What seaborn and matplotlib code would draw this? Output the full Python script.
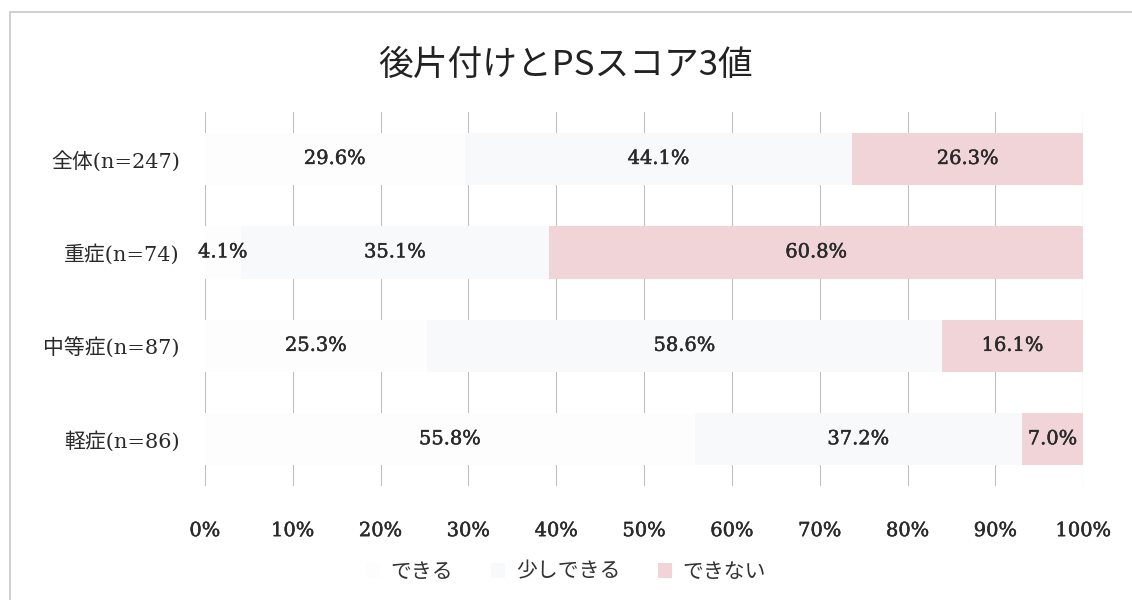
import matplotlib.pyplot as plt
import matplotlib.patheffects as pe
import pandas as pd
import seaborn as sns

categories = ["全体(n=247)", "重症(n=74)", "中等症(n=87)", "軽症(n=86)"]
series_names = ["できる", "少しできる", "できない"]
dekiru = [29.6, 4.1, 25.3, 55.8]
sukoshi = [44.1, 35.1, 58.6, 37.2]
dekinai = [26.3, 60.8, 16.1, 7.0]
x_ticks = [0, 10, 20, 30, 40, 50, 60, 70, 80, 90, 100]

colors = ["#fdfdfd", "#f8f9fa", "#f4d0d3"]
fonts = ["DejaVu Serif", "Noto Sans CJK JP"]
jp_fonts = ["Noto Sans CJK JP", "DejaVu Sans"]
ink = "#2a2a2a"
thicken = [pe.withStroke(linewidth=0.35, foreground=ink)]

df = pd.DataFrame({"cat": categories, series_names[0]: dekiru,
                   series_names[1]: sukoshi, series_names[2]: dekinai})
values = df[series_names]
cum = values.cumsum(axis=1)
starts = cum - values

sns.set_theme(style="white")
plt.rcParams["font.family"] = fonts

fig = plt.figure(figsize=(11.32, 6), dpi=100)
ax = fig.add_axes([0.181, 0.19, 0.776, 0.623])

# stacked bars: draw cumulative totals from the outermost segment inward
for name, color in reversed(list(zip(series_names, colors))):
    sns.barplot(x=cum[name], y=df["cat"], orient="h", color=color, width=0.56,
                label=name, ax=ax, zorder=2, linewidth=0)

for name in series_names:
    for i in range(len(categories)):
        v = values[name].iloc[i]
        xc = starts[name].iloc[i] + v / 2
        ax.text(xc, i, f"{v:.1f}%", ha="center", va="center", fontsize=14,
                color=ink, family=fonts, zorder=3, path_effects=thicken)

ax.set_xlim(0, 100)
ax.set_xticks(x_ticks)
ax.set_xticklabels([f"{t}%" for t in x_ticks])
ax.set_xlabel("")
ax.set_ylabel("")
ax.grid(axis="x", color="#c0c0c0", linewidth=0.8, zorder=0)
ax.set_axisbelow(True)
for s in ax.spines.values():
    s.set_visible(False)
ax.tick_params(axis="x", length=0, pad=26, labelsize=14, labelcolor=ink)
ax.tick_params(axis="y", length=0, pad=18, labelsize=15, labelcolor=ink)
for lab in ax.get_xticklabels():
    lab.set_path_effects(thicken)

fig.suptitle("後片付けとPSスコア3値", y=0.92, fontsize=25, color="#222222",
             family=jp_fonts)

handles, labels = ax.get_legend_handles_labels()
order = [labels.index(n) for n in series_names]
ax.legend([handles[i] for i in order], [labels[i] for i in order], ncol=3,
          loc="center", bbox_to_anchor=(0.5, 0.047), bbox_transform=fig.transFigure,
          frameon=False, handlelength=0.7, handleheight=0.7,
          columnspacing=1.8, handletextpad=0.5,
          prop={"family": jp_fonts, "size": 15})
for t in ax.get_legend().get_texts():
    t.set_color("#333333")

fig.add_artist(plt.Rectangle((0.009, -0.01), 1.1, 0.99, transform=fig.transFigure,
                             fill=False, edgecolor="#c8c8c8", linewidth=1.2))

fig.savefig("out.png", dpi=100)
